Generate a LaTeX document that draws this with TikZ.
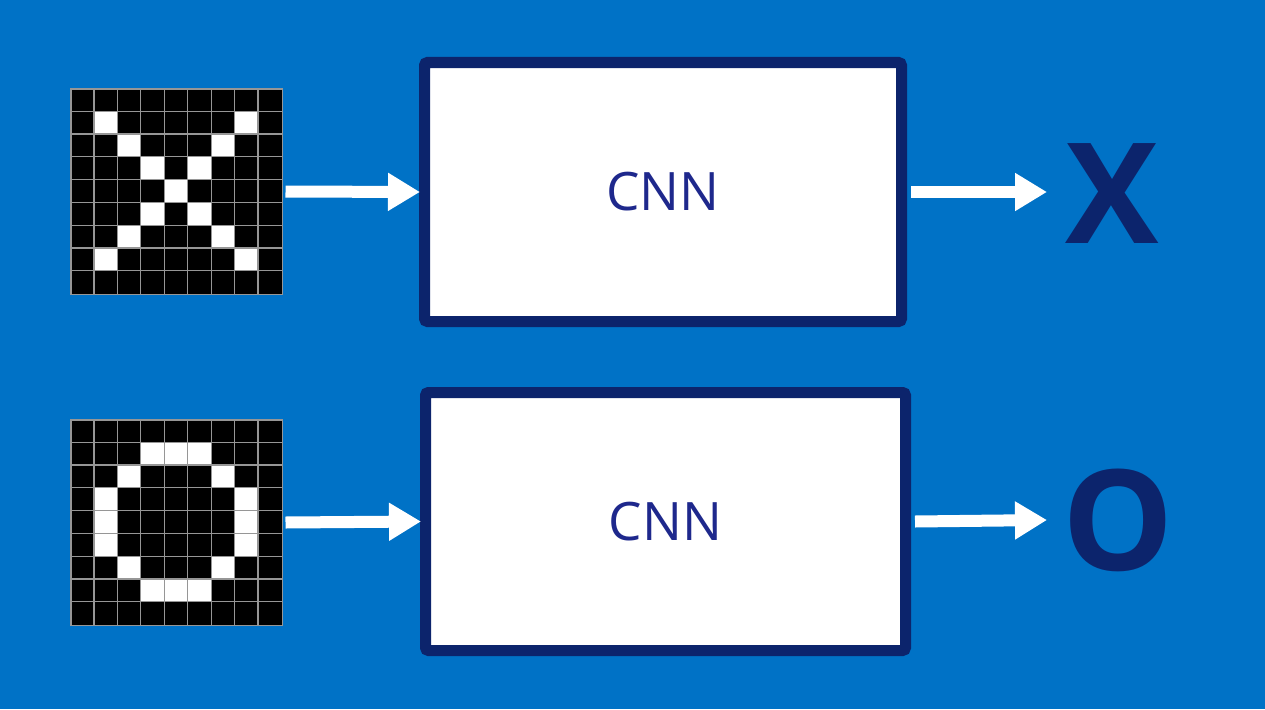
\documentclass[tikz,border=0pt]{standalone}
\usepackage{fontspec}
\setmainfont{Open Sans}
\usetikzlibrary{arrows.meta}
\definecolor{bg}{RGB}{0,114,198}
\definecolor{navy}{RGB}{12,36,108}
\definecolor{cnntext}{RGB}{30,40,140}
\definecolor{gridgray}{RGB}{150,150,150}
\begin{document}
\begin{tikzpicture}[x=1pt,y=-1pt]
\tikzset{
  pixgrid/.style={draw=gridgray,line width=1pt,fill=black,minimum width=211pt,minimum height=205pt,inner sep=0pt},
  gridline/.style={draw=gridgray,line width=1.2pt},
  cnnbox/.style={draw=navy,line width=11pt,fill=white,rounded corners=3pt,minimum width=477pt,minimum height=259pt,inner sep=0pt,font=\fontsize{53}{60}\selectfont,text=cnntext},
  flow/.style={white,line width=12pt,-{Triangle[width=36pt,length=32pt]}},
  outlabel/.style={text=navy,font=\fontsize{140}{140}\selectfont\bfseries,inner sep=0pt}
}
\fill[bg] (0,0) rectangle (1265,709);
\useasboundingbox (0,0) rectangle (1265,709);

% pixel grids
\node[pixgrid] (gx) at (176.5,191.5) {};
\node[pixgrid] (go) at (176.5,522.5) {};

\foreach \r/\c in {1/1,1/7,2/2,2/6,3/3,3/5,4/4,5/3,5/5,6/2,6/6,7/1,7/7}
  \fill[white] ([xshift=\c*23.444pt,yshift=-\r*22.778pt]gx.north west) rectangle ++(23.444,22.778);
\foreach \r/\c in {1/3,1/4,1/5,2/2,2/6,3/1,3/7,4/1,4/7,5/1,5/7,6/2,6/6,7/3,7/4,7/5}
  \fill[white] ([xshift=\c*23.444pt,yshift=-\r*22.778pt]go.north west) rectangle ++(23.444,22.778);

\foreach \g in {gx,go}{
  \foreach \i in {1,...,8}{
    \draw[gridline] ([xshift=\i*23.444pt]\g.north west) -- ([xshift=\i*23.444pt]\g.south west);
    \draw[gridline] ([yshift=-\i*22.778pt]\g.north west) -- ([yshift=-\i*22.778pt]\g.north east);
  }
  \draw[gridline] (\g.north west) rectangle (\g.south east);
}

% CNN boxes
\node[cnnbox] (b1) at (663,192) {CNN};
\node[cnnbox,minimum width=480pt,minimum height=258pt] (b2) at (665.5,521.5) {CNN};

% output labels
\node[outlabel,anchor=base] (lx) at (1112,243) {X};
\node[outlabel,anchor=base] (lo) at (1118,570) {O};

\coordinate (ex) at (1047,192);
\coordinate (eo) at (1047,520);

% arrows
\draw[flow] ([xshift=3pt]gx.east) -- ([xshift=1pt]b1.west);
\draw[flow] ([xshift=3pt]go.east) -- ([xshift=1pt]b2.west);
\draw[flow] ([xshift=4pt]b1.east) -- (ex);
\draw[flow] ([xshift=4pt]b2.east) -- (eo);
\end{tikzpicture}
\end{document}
